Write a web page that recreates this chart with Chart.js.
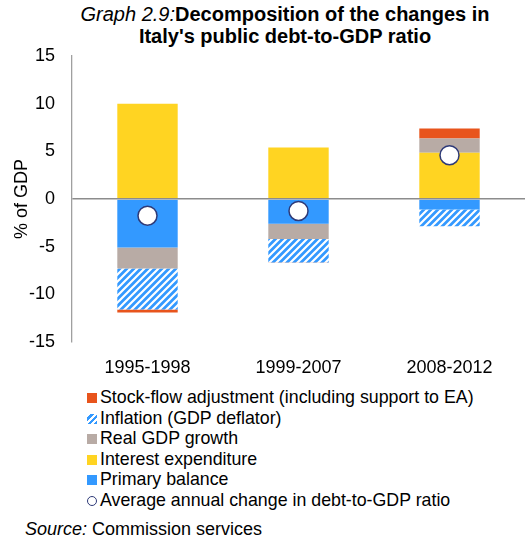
<!DOCTYPE html>
<html>
<head>
<meta charset="utf-8">
<script src="https://cdn.jsdelivr.net/npm/chart.js@4.4.0/dist/chart.umd.min.js"></script>
<style>
  body { margin: 0; width: 529px; height: 541px; overflow: hidden; background: #fff;
         font-family: "Liberation Sans", Arial, sans-serif; color: #000; position: relative; }
  #title { position: absolute; left: 35px; width: 500px; top: 4px; text-align: center; white-space: nowrap;
           font-size: 20px; font-weight: bold; line-height: 21.5px; }
  #title i { font-weight: normal; }
  #chartBox { position: absolute; left: 0; top: 0; }
  #legend { position: absolute; left: 87px; top: 387px; font-size: 17.8px; line-height: 20.6px; }
  #legend div { white-space: nowrap; }
  .sw { display: inline-block; width: 10px; height: 10px; margin-right: 3px; vertical-align: 0px; box-sizing: border-box; }
  #source { position: absolute; left: 25px; top: 519px; font-size: 18px; }
</style>
</head>
<body>
<div id="title"><i>Graph 2.9:</i>Decomposition of the changes in<br>Italy's public debt-to-GDP ratio</div>
<div id="chartBox"><canvas id="chart" width="536" height="380"></canvas></div>
<div id="legend"></div>
<div id="source"><i>Source:</i> Commission services</div>

<script>
const categories = ['1995-1998', '1999-2007', '2008-2012'];
const primaryBalance = [-5.1, -2.6, -1.1];
const interestExpenditure = [10.0, 5.4, 4.85];
const realGdpGrowth = [-2.2, -1.6, 1.5];
const inflation = [-4.3, -2.45, -1.75];
const stockFlow = [-0.3, -0.05, 1.05];
const avgChange = [-1.75, -1.25, 4.6];
const yTicks = [-15, -10, -5, 0, 5, 10, 15];

const blue = '#3399ff';
const yellow = '#ffd422';
const grey = '#b8aba5';
const orange = '#e8541c';
const navy = '#2e3a78';

function makeHatch() {
    const c = document.createElement('canvas');
    c.width = 7;
    c.height = 7;
    const g = c.getContext('2d');
    g.fillStyle = blue;
    g.fillRect(0, 0, 7, 7);
    g.strokeStyle = '#fff';
    g.lineWidth = 2.2;
    g.beginPath();
    g.moveTo(0, 7); g.lineTo(7, 0);
    g.moveTo(-2, 2); g.lineTo(2, -2);
    g.moveTo(5, 9); g.lineTo(9, 5);
    g.stroke();
    return g.createPattern(c, 'repeat');
}

const font = { family: '"Liberation Sans", Arial, sans-serif', size: 18 };

function bar(label, data, color) {
    return { label, data, backgroundColor: color, borderWidth: 0, stack: 'bars', order: 1,
             barPercentage: 0.4, categoryPercentage: 1 };
}

const datasets = [
    bar('Primary balance', primaryBalance, blue),
    bar('Interest expenditure', interestExpenditure, yellow),
    bar('Real GDP growth', realGdpGrowth, grey),
    bar('Inflation (GDP deflator)', inflation, makeHatch()),
    bar('Stock-flow adjustment (including support to EA)', stockFlow, orange),
    {
        type: 'line', label: 'Average annual change in debt-to-GDP ratio', data: avgChange,
        showLine: false, stack: 'avg', order: 0,
        pointRadius: 9.5, pointBorderWidth: 1.5, pointBackgroundColor: '#fff', pointBorderColor: navy
    }
];

new Chart(document.getElementById('chart'), {
    type: 'bar',
    data: { labels: categories, datasets },
    options: {
        responsive: false,
        devicePixelRatio: 1,
        animation: false,
        layout: { padding: { top: 56, bottom: 2, left: 0, right: 0 } },
        plugins: { legend: { display: false }, tooltip: { enabled: false } },
        scales: {
            x: {
                stacked: true,
                grid: { display: false },
                border: { display: false },
                ticks: { color: '#000', font, padding: 7, maxRotation: 0 },
                afterFit: s => { s.height = 36; }
            },
            y: {
                stacked: true,
                min: -15, max: 15,
                afterBuildTicks: s => { s.ticks = yTicks.map(v => ({ value: v })); },
                grid: {
                    z: 1, drawTicks: false, lineWidth: 1.5,
                    color: c => (c.tick && c.tick.value === 0) ? '#8c8c8c' : 'rgba(0,0,0,0)'
                },
                border: { display: true, color: '#a0a0a0', width: 1.3, z: 1 },
                ticks: { color: '#000', font, padding: 17 },
                title: { display: true, text: '% of GDP', color: '#000', font, padding: { top: 11, bottom: 0 } },
                afterFit: s => { s.width = 72; }
            }
        }
    }
});

// legend, same order as the reference (top of stack first)
const legendItems = [
    { label: datasets[4].label, style: 'background:' + orange },
    { label: datasets[3].label, style: 'background:repeating-linear-gradient(-45deg,' + blue + ' 0 2.5px,#fff 2.5px 4.5px)' },
    { label: datasets[2].label, style: 'background:' + grey },
    { label: datasets[1].label, style: 'background:' + yellow },
    { label: datasets[0].label, style: 'background:' + blue },
    { label: datasets[5].label, style: 'border:1.5px solid ' + navy + ';border-radius:50%;background:#fff' }
];
document.getElementById('legend').innerHTML = legendItems
    .map(it => `<div><span class="sw" style="${it.style}"></span>${it.label}</div>`)
    .join('');
</script>
</body>
</html>
